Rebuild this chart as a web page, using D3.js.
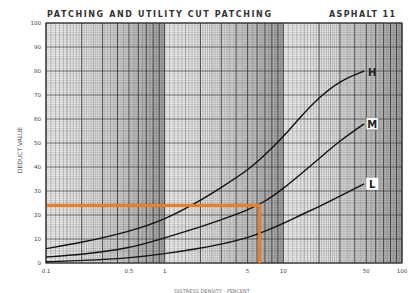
<!DOCTYPE html>
<html>
<head>
<meta charset="utf-8">
<script src="https://cdn.jsdelivr.net/npm/d3@7"></script>
<style>
  html, body { margin: 0; padding: 0; background: #fff; }
  svg { display: block; }
  text { font-family: "DejaVu Sans", sans-serif; }
</style>
</head>
<body>
<svg id="chart" width="410" height="293"></svg>
<script>
// ---- data ----
const density = [0.1, 0.2, 0.5, 1, 2, 3, 5, 7, 10, 14, 20, 30, 48];
const seriesH = [6, 8.5, 13, 18, 26, 31.5, 38.5, 45, 52.5, 61, 69, 76, 80];
const seriesM = [2.5, 3.5, 6, 10.5, 15, 18, 22, 25.5, 31, 37, 43.5, 51, 58];
const seriesL = [0.5, 1, 2, 3.8, 6.2, 7.8, 10.5, 13.2, 16.5, 20, 23.5, 27.8, 33];
const seriesNames = ["H", "M", "L"];
const xTickLabels = [0.1, 0.5, 1, 5, 10, 50, 100];
const yTickLabels = [0, 10, 20, 30, 40, 50, 60, 70, 80, 90, 100];
const readDensity = 6.3;   // orange reading line
const readDeduct = 24;
const title = "PATCHING AND UTILITY CUT PATCHING";
const titleRight = "ASPHALT 11";
const yTitle = "DEDUCT VALUE";
const xTitle = "DISTRESS DENSITY - PERCENT";

const svg = d3.select("#chart");
const x = d3.scaleLog().domain([0.1, 100]).range([46, 402]);
const y = d3.scaleLinear().domain([0, 100]).range([263, 23]);

// plot background
svg.append("rect").attr("x", x(0.1)).attr("y", y(100))
  .attr("width", x(100) - x(0.1)).attr("height", y(0) - y(100))
  .attr("fill", "#e9e9e9");

const grid = svg.append("g");
// vertical log grid lines
const vLines = [];
[0.1, 1, 10].forEach(dec => {
  for (let k = 10; k < 100; k++) vLines.push({v: dec * k / 10, major: k % 10 === 0, mid: k % 5 === 0});
});
vLines.push({v: 100, major: true});
grid.selectAll("line.v").data(vLines).join("line")
  .attr("x1", d => x(d.v)).attr("x2", d => x(d.v))
  .attr("y1", y(0)).attr("y2", y(100))
  .attr("stroke", "#333")
  .attr("stroke-opacity", d => d.major ? 0.9 : (d.mid ? 0.6 : 0.4))
  .attr("stroke-width", d => d.major ? 1 : 0.6);

// horizontal grid lines
const hLines = d3.range(0, 101, 1);
grid.selectAll("line.h").data(hLines).join("line")
  .attr("x1", x(0.1)).attr("x2", x(100))
  .attr("y1", d => y(d)).attr("y2", d => y(d))
  .attr("stroke", "#333")
  .attr("stroke-opacity", d => d % 10 === 0 ? 0.8 : (d % 5 === 0 ? 0.55 : 0.3))
  .attr("stroke-width", d => d % 10 === 0 ? 0.9 : 0.5);

// frame
svg.append("rect").attr("x", x(0.1)).attr("y", y(100))
  .attr("width", x(100) - x(0.1)).attr("height", y(0) - y(100))
  .attr("fill", "none").attr("stroke", "#222").attr("stroke-width", 1);

// curves
const line = d3.line().x(d => x(d[0])).y(d => y(d[1])).curve(d3.curveBasis);
[seriesH, seriesM, seriesL].forEach(s => {
  svg.append("path").datum(density.map((d, i) => [d, s[i]]))
    .attr("d", line).attr("fill", "none").attr("stroke", "#111").attr("stroke-width", 1.4);
});

// curve labels
const lastD = density[density.length - 1];
[seriesH, seriesM, seriesL].forEach((s, i) => {
  const lx = x(lastD) + 8, ly = y(s[s.length - 1]) + 1;
  if (i > 0) {
    svg.append("rect").attr("x", lx - 6).attr("y", ly - 7).attr("width", 12).attr("height", 12)
      .attr("fill", "#fff").attr("stroke", i === 1 ? "#888" : "none").attr("stroke-width", 0.6);
  }
  svg.append("text").attr("x", lx).attr("y", ly + 3.5).attr("text-anchor", "middle")
    .attr("font-size", 10).attr("font-weight", "bold").attr("fill", "#222").text(seriesNames[i]);
});

// orange reading lines
svg.append("path")
  .attr("d", d3.line()([[x(0.1) + 1, y(readDeduct)], [x(readDensity), y(readDeduct)], [x(readDensity), y(0)]]))
  .attr("fill", "none").attr("stroke", "#f07c24").attr("stroke-width", 3);

// y tick labels
svg.selectAll("text.yt").data(yTickLabels).join("text")
  .attr("x", 41).attr("y", d => y(d) + 2).attr("text-anchor", "end")
  .attr("font-size", 5.5).attr("fill", "#444").text(d => d);

// x tick labels
svg.selectAll("text.xt").data(xTickLabels).join("text")
  .attr("x", d => x(d)).attr("y", 273).attr("text-anchor", "middle")
  .attr("font-size", 5.5).attr("fill", "#444").text(d => d);

// titles
svg.append("text").attr("x", x(0.1) + 1).attr("y", 17).attr("font-size", 8).attr("font-weight", "bold")
  .attr("fill", "#333").attr("textLength", 224).attr("lengthAdjust", "spacing").text(title);
svg.append("text").attr("x", 329).attr("y", 17).attr("font-size", 8).attr("font-weight", "bold")
  .attr("fill", "#333").attr("textLength", 66).attr("lengthAdjust", "spacing").text(titleRight);
svg.append("text").attr("transform", "translate(22,150) rotate(-90)").attr("text-anchor", "middle")
  .attr("font-size", 6).attr("fill", "#555").text(yTitle);
svg.append("text").attr("x", 212).attr("y", 293).attr("text-anchor", "middle")
  .attr("font-size", 5).attr("fill", "#777").text(xTitle);
</script>
</body>
</html>
